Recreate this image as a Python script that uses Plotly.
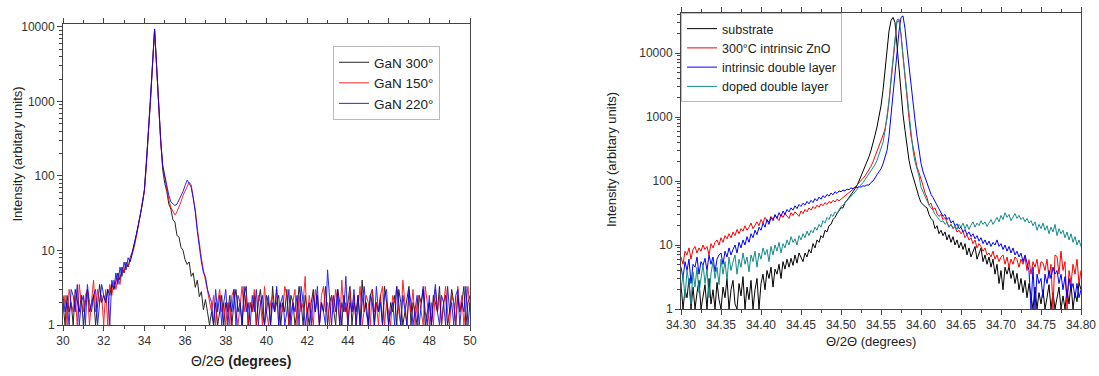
import numpy as np
import plotly.graph_objects as go

# ---------------- Left panel: GaN (x = 30.0 .. 50.0, step 0.1) ----------------
left_x_start, left_x_step = 30.0, 0.1

gan300 = ([2, 1, 2.5, 1.5, 2, 1, 3, 2, 1.5, 2.5, 1, 2, 3, 1.5, 2, 2.5, 1, 2, 3.5, 2, 2.5]
          + [2, 3, 2.5, 3.5, 3, 4, 5, 4, 6, 5, 7, 6, 8, 9.5, 12, 16, 22, 30, 42, 65]
          + [150, 380, 1000, 3200, 9300, 2900, 750, 300, 120, 80, 62, 42, 36, 26, 24, 16, 15, 11, 10, 7.5]
          + [6.5, 7, 4.5, 5, 3.2, 4, 2.4, 2.8, 1.6, 2.2, 1.5, 1, 1.5, 1, 2, 1, 1.5, 2.5, 1, 2]
          + [1.5, 2.5, 1, 2, 3, 1.5, 2, 1, 2.5, 3.3, 1, 2, 1.5, 2.5, 1, 2, 3, 1.5, 1, 2.5]
          + [2, 1, 3.3, 1.5, 2, 2.5, 1, 2, 1.5, 3, 1, 2.5, 2, 1, 1.5, 3.3, 2, 1, 2.5, 1.5]
          + [1, 2, 3, 1.5, 2.5, 1, 2, 1.5, 3.3, 1, 2, 2.5, 1.5, 1, 3, 2, 1, 2.5, 1.5, 2]
          + [3.3, 1, 2, 1.5, 2.5, 1, 4, 1.5, 2, 1, 2.5, 3, 1, 2, 1.5, 2.5, 1, 3.3, 2, 1]
          + [2, 1.5, 2.5, 1, 3, 2, 1, 1.5, 2.5, 3.3, 1, 2, 1.5, 1, 2.5, 2, 3, 1, 1.5, 2]
          + [1, 2.5, 2, 1.5, 3.3, 1, 2, 2.5, 1, 1.5, 3, 2, 1, 2.5, 1.5, 2, 3.3, 1, 2, 2.5])

gan150 = ([1.5, 2.5, 1, 3, 2, 1.5, 2.5, 1, 3.5, 2, 1.5, 2.5, 3, 1, 2, 4, 1.5, 3, 2, 2.5, 1]
          + [3, 1, 3.5, 2.5, 4, 3, 4.5, 3.5, 5.5, 5, 6.5, 6, 7.5, 9, 11, 15, 21, 29, 40, 62]
          + [145, 370, 980, 3100, 9200, 2800, 760, 290, 135, 95, 65, 48, 38, 33, 30, 33, 38, 45, 55, 62]
          + [70, 82, 76, 52, 35, 20, 12, 8, 5.5, 4, 3, 2, 1.5, 2.5, 1, 2, 3, 1.5, 2, 1]
          + [2, 1, 2.5, 3, 1.5, 1, 2, 3.3, 1.5, 2.5, 1, 2, 1.5, 3, 1, 2.5, 2, 1, 3.3, 1.5]
          + [1, 2, 2.5, 1.5, 3, 1, 2, 1.5, 3.3, 2.5, 1, 1.5, 2, 3, 1, 2.5, 1.5, 2, 4.5, 1]
          + [2.5, 1.5, 1, 3, 2, 1, 2.5, 3.3, 1.5, 2, 1, 2.5, 1.5, 3, 2, 1, 4, 1.5, 2, 1]
          + [3, 1.5, 2.5, 1, 2, 3.3, 1, 1.5, 2.5, 2, 1, 3, 1.5, 2, 1, 2.5, 3.3, 1, 2, 1.5]
          + [1, 2.5, 2, 3.3, 1.5, 1, 4, 2, 1, 2.5, 1.5, 3, 1, 2, 2.5, 1.5, 1, 3.3, 2, 1]
          + [2, 1, 3, 1.5, 2.5, 1, 2, 3.3, 1.5, 1, 2.5, 2, 1, 3.3, 1.5, 2.5, 1, 2, 3.3, 1.5])

gan220 = ([2.5, 1.5, 2, 1, 3, 2.5, 1.5, 3.5, 1, 2, 2.5, 1, 3.5, 2, 1.5, 2.5, 3, 1, 2, 3.5, 2.5]
          + [2, 3, 1, 4, 3, 5, 3.5, 6, 4.5, 7, 5.5, 8, 7, 9, 12, 15, 22, 30, 42, 65]
          + [150, 380, 1000, 3200, 9400, 2900, 780, 310, 140, 100, 70, 55, 45, 42, 40, 42, 48, 55, 62, 75]
          + [88, 80, 70, 50, 33, 18, 11, 7, 5, 4.5, 3, 2.5, 2, 1, 3, 1.5, 2.5, 1, 2, 3]
          + [1, 2, 1.5, 3, 1, 2.5, 2, 1, 3.3, 1.5, 2, 1, 2.5, 1.5, 3, 1, 2, 2.5, 1, 1.5]
          + [2.5, 1, 2, 1.5, 3.3, 1, 2, 2.5, 1, 1.5, 3, 1, 2, 1.5, 2.5, 1, 3.3, 2, 1, 1.5]
          + [2, 1, 2.5, 1.5, 3.3, 1, 2, 1.5, 1, 5.5, 2, 1, 2.5, 1.5, 3, 1, 2, 1.5, 4.5, 1]
          + [2, 1.5, 3, 1, 2.5, 1, 2, 3.3, 1.5, 1, 2.5, 2, 1, 3.3, 1.5, 2, 1, 2.5, 3, 1]
          + [1.5, 2, 1, 3.3, 2, 1, 2.5, 1.5, 1, 3, 2, 1, 1.5, 2.5, 1, 2, 3.3, 1.5, 1, 2.5]
          + [1, 2, 3.5, 1.5, 1, 2.5, 2, 1, 3.3, 1.5, 2, 1, 2.5, 3, 1, 2, 1.5, 3.3, 1, 2])

left_names = ["GaN 300°", "GaN 150°", "GaN 220°"]
left_colors = ["#000000", "#ff0000", "#0000ff"]
left_xticks = [30, 32, 34, 36, 38, 40, 42, 44, 46, 48, 50]
left_xminor = [31, 33, 35, 37, 39, 41, 43, 45, 47, 49]

# ---------------- Right panel: ZnO (x = 34.300 .. 34.800, step 0.0025) ----------------
right_x_start, right_x_step = 34.30, 0.0025

substrate = ([2.5, 1, 2, 1.5, 3, 1, 2.2, 1, 1.8, 2.8, 1, 1.5, 2.4, 1, 3, 1.2, 2, 1, 2.6, 1.4]
             + [1, 2.2, 1.5, 3, 1, 2, 2.8, 1.2, 1, 2.5, 1.6, 3.2, 1, 2.2, 1.4, 2.8, 1, 2, 3, 1]
             + [2.5, 3.5, 2, 4, 3, 4.5, 2.2, 4.2, 3.5, 5, 3, 5.5, 4.2, 6, 4.5, 6.2, 4.8, 7, 5.2, 7.5]
             + [6.5, 5.5, 7.5, 6.5, 8.5, 7.5, 10.5, 9, 12, 11, 14, 13, 17, 16, 20, 21, 25, 27, 31, 34]
             + [38, 38, 46, 50, 55, 60, 68, 76, 85, 100, 118, 140, 165, 195, 240, 300, 380, 520, 700, 1000]
             + [1500, 2600, 5000, 11000, 22000, 32000, 36000, 30000, 13000, 5500, 2200, 1100, 620, 330, 210, 150, 115, 95, 72, 56]
             + [46, 42, 40, 38, 30, 26, 24, 18, 20, 15, 17, 14, 16, 12, 14.5, 11, 13.5, 10, 12, 9]
             + [11, 8.5, 10.5, 7, 9, 6.5, 8, 9.5, 6, 7.5, 9, 5.5, 7, 5, 6.5, 4.5, 6, 3.5, 5, 2.5]
             + [4, 2, 4.5, 3.5, 4.6, 3, 4, 2.5, 3.6, 2, 3, 1.8, 2.8, 1.5, 2.5, 1.6, 1, 2.2, 1, 1.8]
             + [1.2, 2, 1, 1.5, 2.4, 1, 1.8, 1, 1.5, 2.2, 1, 1.6, 1, 2, 1.2, 2.5, 1, 1.8, 1.3, 2.6, 2])

intrinsic_zno = ([6.5, 5, 8, 7, 9, 6, 8.5, 9.5, 7.5, 9, 8, 10, 8.5, 9.5, 7, 10.5, 9, 11, 12, 10]
                 + [13, 11, 14, 12.5, 15, 13, 16, 14, 17.5, 15, 18, 16.5, 20, 17, 19, 22, 18, 21, 23, 20]
                 + [25, 22, 27, 24, 23, 28, 25, 29, 26, 24, 30, 27, 31, 28, 26, 32, 29, 33, 30, 28]
                 + [34, 31, 36, 33, 38, 35, 40, 37, 42, 39, 44, 41, 46, 43, 48, 45, 50, 47, 52, 49]
                 + [52, 55, 58, 62, 65, 70, 74, 80, 86, 92, 100, 110, 120, 135, 150, 170, 200, 240, 300, 370]
                 + [420, 520, 650, 950, 1700, 3800, 7500, 15000, 31000, 32000, 19000, 8500, 4300, 1900, 950, 500, 330, 220, 165, 135]
                 + [110, 85, 65, 55, 42, 45, 36, 38, 31, 28, 30, 25, 27, 22, 19, 21, 18, 19.5, 16, 17]
                 + [15, 16.5, 13, 14.5, 12, 13, 10.5, 12, 9, 10.5, 9.4, 8, 9, 7, 7.5, 6.5, 8, 6, 7, 5.5]
                 + [6.5, 7, 5, 6.5, 4.5, 6, 5, 6.5, 5.9, 4.5, 6, 5, 6.5, 4, 5.9, 3.5, 5.5, 4.5, 6, 3.5]
                 + [5.5, 5.2, 4, 6, 3, 5, 1, 7, 6.6, 3.5, 8, 4, 5.5, 1, 4, 2.5, 5, 3.5, 6, 2.5, 4])

intrinsic_double = ([4.5, 3, 5.5, 4, 6, 2.5, 5, 4.5, 6.5, 3.5, 5.5, 4.8, 6.2, 4, 7, 5, 6.5, 3.8, 6, 7]
                    + [7.5, 5, 8, 6.5, 9, 7, 8.5, 10, 7.5, 11, 9, 12, 10, 13.5, 11, 15, 13, 17, 14.5, 19]
                    + [17, 22, 19, 25, 21, 27, 24, 30, 26, 32, 28, 34, 30, 36, 33, 38, 35, 41, 37, 43]
                    + [40, 45, 42, 48, 44, 50, 46, 53, 49, 56, 52, 59, 55, 62, 58, 65, 61, 68, 64, 70]
                    + [68, 72, 70, 75, 73, 78, 76, 80, 78, 82, 80, 84, 83, 87, 86, 95, 100, 110, 125, 140]
                    + [155, 185, 230, 300, 500, 1000, 2000, 4300, 10000, 22000, 36000, 38000, 24000, 12000, 6000, 3500, 1700, 900, 500, 280]
                    + [190, 140, 115, 90, 75, 62, 55, 48, 42, 36, 32, 28, 30, 25, 27, 22, 24, 20, 21.5, 18]
                    + [19, 16, 17.5, 14.5, 16, 13.5, 15, 12.5, 14, 11.5, 13, 10.5, 12, 10, 11.5, 9.5, 11, 10, 12, 9.5]
                    + [10.5, 8.5, 10, 8, 9.5, 7.5, 9, 7, 8, 6.5, 7.5, 5.5, 7, 5, 4, 1, 4.5, 1, 3.5, 2.5]
                    + [3, 1.5, 3.5, 2.5, 4, 3, 4.5, 3.5, 4, 2.5, 3.5, 2, 3.2, 1.5, 3, 2, 2.5, 1.5, 2.5, 1.5, 2])

doped_double = ([2, 3.5, 1.5, 4, 2.5, 1.2, 3.8, 2.2, 4.5, 1.8, 3, 5, 2.5, 4.2, 1.5, 3.6, 5.5, 3, 4.5, 2.4]
                + [6, 3.5, 5.5, 2.8, 6.5, 4, 5.5, 7, 3.5, 6, 4.5, 7.5, 5, 6.5, 3.8, 7, 5.5, 8, 4.5, 7.5]
                + [6, 9, 7, 8.5, 5.5, 9.5, 7, 10, 8, 11, 7.5, 10.5, 9, 12, 10, 13.5, 11, 12.5, 10, 14]
                + [12, 15, 13, 16.5, 14, 17, 15.5, 19, 17, 21, 19, 24, 22, 27, 25, 30, 28, 33, 31, 36]
                + [40, 42, 46, 50, 54, 58, 62, 67, 73, 80, 87, 95, 105, 117, 130, 145, 160, 180, 210, 260]
                + [320, 400, 600, 1000, 1800, 4000, 8000, 16000, 33000, 34000, 20000, 9000, 4500, 2000, 1000, 520, 300, 200, 150, 120]
                + [80, 68, 56, 48, 42, 38, 35, 30, 28, 25, 23, 24, 21, 22.5, 19, 21, 18.5, 20, 17.5, 21]
                + [19, 22, 18, 21, 17.5, 20.5, 23, 19, 22, 20, 24, 21, 23, 19.5, 22.5, 25, 21, 24, 27, 23]
                + [29, 25, 32, 27, 30, 24, 28, 31, 26, 29, 25, 27, 23, 26, 22, 24, 20, 23, 17, 21]
                + [18, 22, 17, 20, 15, 19, 16, 21, 14, 18, 15, 17, 13, 16, 12, 15, 11, 13.5, 10, 12, 9.5])

right_names = ["substrate", "300°C intrinsic ZnO", "intrinsic double layer", "doped double layer"]
right_colors = ["#000000", "#ff0000", "#0000ff", "#148c8c"]
right_xticks = [34.30, 34.35, 34.40, 34.45, 34.50, 34.55, 34.60, 34.65, 34.70, 34.75, 34.80]
right_xminor = [34.325, 34.375, 34.425, 34.475, 34.525, 34.575, 34.625, 34.675, 34.725, 34.775]

y_ticks = [1, 10, 100, 1000, 10000]
y_ticktext = ["1", "10", "100", "1000", "10000"]
y_minor = [m * 10 ** k for k in range(0, 5) for m in range(2, 10)]

# ---------------- figure ----------------
W, H = 1099, 376
FONT = "Liberation Sans, Arial, sans-serif"
AX = "#444444"

fig = go.Figure()

for name, ys, col in zip(left_names, [gan300, gan150, gan220], left_colors):
    xs = left_x_start + left_x_step * np.arange(len(ys))
    fig.add_trace(go.Scatter(x=xs, y=ys, mode="lines", name=name,
                             line=dict(color=col, width=1), opacity=0.85,
                             xaxis="x", yaxis="y", legend="legend"))

for name, ys, col in zip(right_names, [substrate, intrinsic_zno, intrinsic_double, doped_double], right_colors):
    xs = right_x_start + right_x_step * np.arange(len(ys))
    fig.add_trace(go.Scatter(x=xs, y=ys, mode="lines", name=name,
                             line=dict(color=col, width=1),
                             xaxis="x2", yaxis="y2", legend="legend2"))

common_x = dict(showline=True, linecolor=AX, linewidth=1, mirror="ticks", ticks="outside",
                ticklen=5, tickcolor=AX, showgrid=False, zeroline=False, automargin=False,
                tickfont=dict(size=12, color="#333333", family=FONT))
common_y = dict(type="log", showline=True, linecolor=AX, linewidth=1, mirror=True, ticks="outside",
                ticklen=5, tickcolor=AX, showgrid=False, zeroline=False, automargin=False,
                tickvals=y_ticks, ticktext=y_ticktext,
                minor=dict(tickmode="array", tickvals=y_minor, ticks="outside", ticklen=3, tickcolor=AX),
                tickfont=dict(size=12, color="#333333", family=FONT))

fig.update_layout(
    width=W, height=H, margin=dict(l=0, r=0, t=0, b=0, pad=0, autoexpand=False),
    paper_bgcolor="white", plot_bgcolor="white",
    font=dict(family=FONT, color="#222222"),
    xaxis=dict(domain=[63 / W, 470 / W], range=[30, 50], anchor="y",
               tickvals=left_xticks,
               minor=dict(tickmode="array", tickvals=left_xminor, ticks="outside", ticklen=3, tickcolor=AX),
               **common_x),
    yaxis=dict(domain=[51 / H, 352 / H], range=[0, 4.04], anchor="x", **common_y),
    xaxis2=dict(domain=[681 / W, 1081 / W], range=[34.30, 34.80], anchor="y2",
                tickvals=right_xticks, ticktext=[f"{v:.2f}" for v in right_xticks],
                minor=dict(tickmode="array", tickvals=right_xminor, ticks="outside", ticklen=3, tickcolor=AX),
                **common_x),
    yaxis2=dict(domain=[67 / H, 363 / H], range=[0, 4.625], anchor="x2", **common_y),
    legend=dict(x=333 / W, y=1 - 46 / H, xanchor="left", yanchor="top",
                bgcolor="white", bordercolor="#bbbbbb", borderwidth=1,
                font=dict(size=13.5, family=FONT, color="#222222"), tracegroupgap=0),
    legend2=dict(x=681 / W, y=1 - 13 / H, xanchor="left", yanchor="top",
                 bgcolor="white", bordercolor="#bbbbbb", borderwidth=1,
                 font=dict(size=12.5, family=FONT, color="#222222"), tracegroupgap=0),
    showlegend=True,
)

annos = [
    dict(text="Θ/2Θ <b>(degrees)</b>", x=241 / W, y=1 - 361 / H, font=dict(size=14)),
    dict(text="Θ/2Θ (degrees)", x=871 / W, y=1 - 341 / H, font=dict(size=13)),
    dict(text="Intensity (arbitary units)", x=17.5 / W, y=1 - 154 / H, textangle=-90, font=dict(size=13)),
    dict(text="Intensity (arbitary units)", x=612 / W, y=1 - 160 / H, textangle=-90, font=dict(size=13)),
]
for a in annos:
    a.update(xref="paper", yref="paper", showarrow=False, xanchor="center", yanchor="middle")
    a["font"].update(family=FONT, color="#222222")
    fig.add_annotation(**a)

fig.write_html("out.html", config={"displayModeBar": False},
               post_script="document.body.style.margin='0';document.body.style.overflow='hidden';")
